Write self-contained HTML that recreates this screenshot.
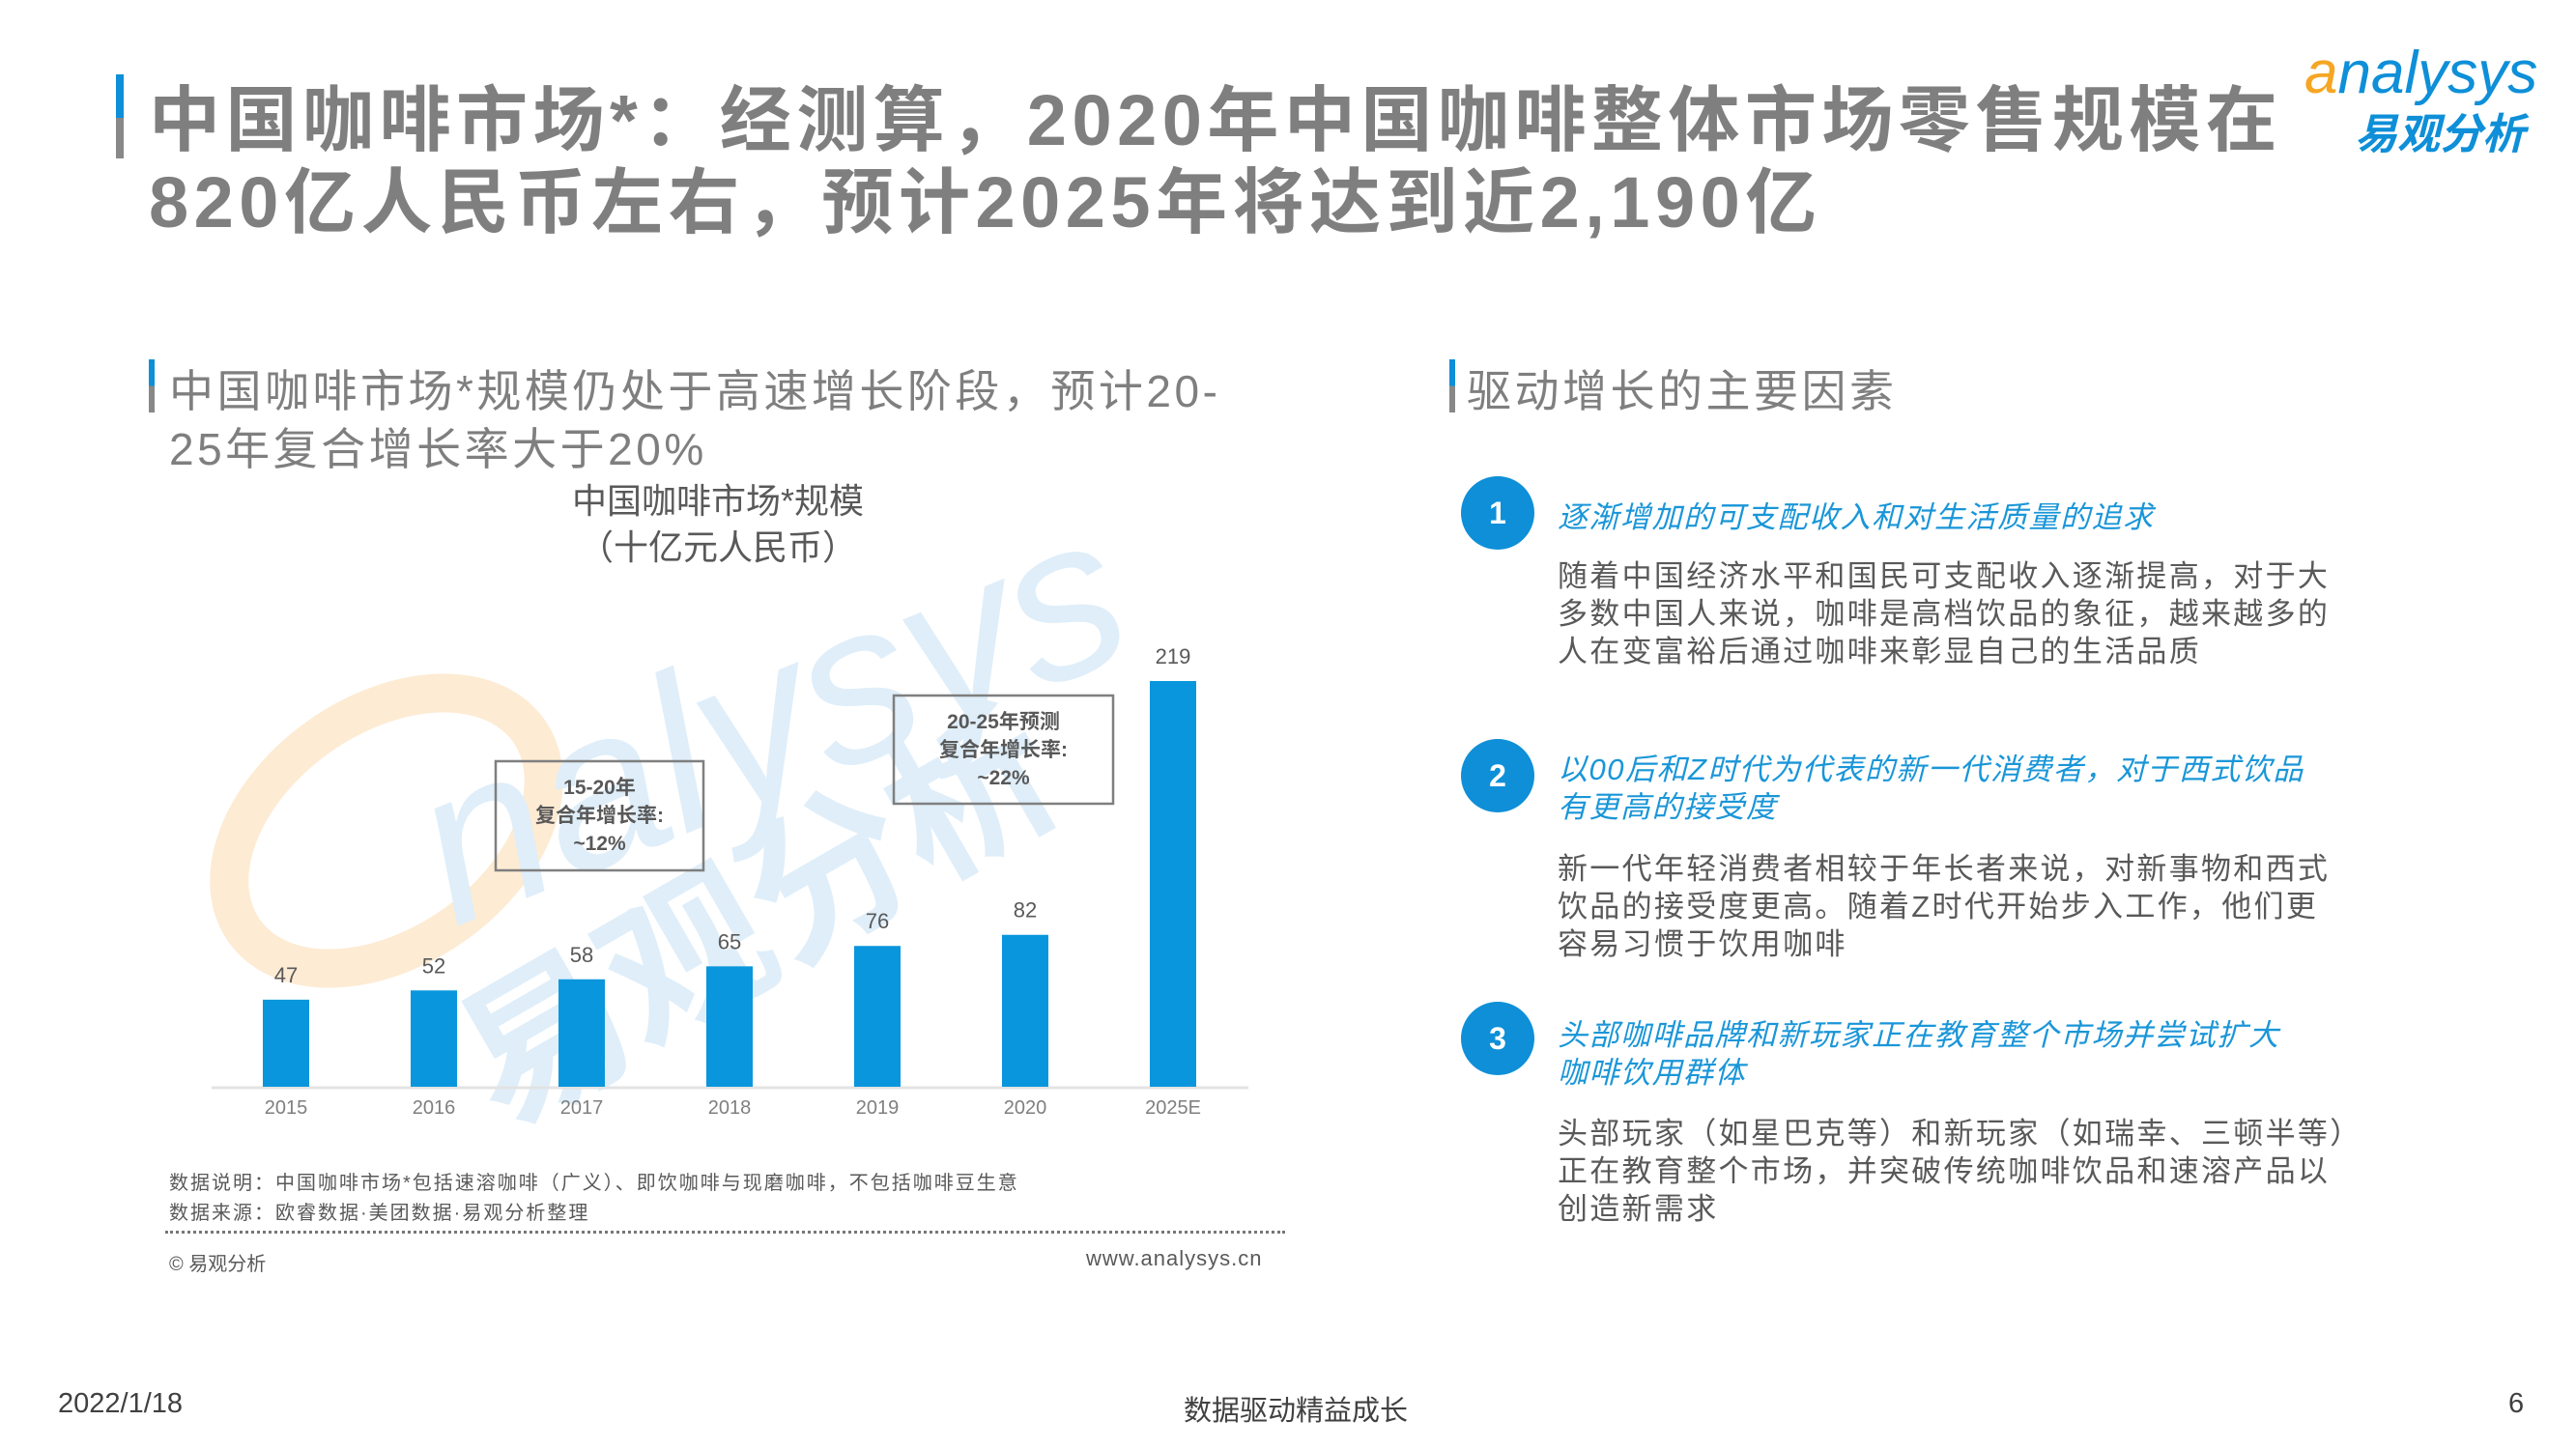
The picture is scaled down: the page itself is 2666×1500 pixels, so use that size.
<!DOCTYPE html>
<html><head><meta charset="utf-8">
<style>
body{margin:0;width:2666px;height:1500px;background:#fff;position:relative;overflow:hidden;font-family:"Liberation Sans","Noto Sans CJK SC",sans-serif;}
.abs{position:absolute;white-space:nowrap;}
.title{left:154px;font-size:74px;font-weight:bold;color:#7f7f7f;line-height:86px;letter-spacing:5.5px;}
.sub{font-size:46px;color:#7f7f7f;line-height:60px;letter-spacing:3.5px;}
.circ{position:absolute;width:76px;height:76px;border-radius:50%;background:#0e8fd8;color:#fff;font-size:32px;font-weight:bold;text-align:center;line-height:76px;}
.h{position:absolute;left:1612px;font-size:31px;font-style:italic;color:#1a96d8;line-height:39px;letter-spacing:1.5px;}
.b{position:absolute;left:1612px;font-size:31px;color:#595959;line-height:39px;letter-spacing:2.3px;}
</style></head><body>
<div class="abs" style="left:120px;top:77px;width:8px;height:45px;background:#0e8fd8"></div>
<div class="abs" style="left:120px;top:122px;width:8px;height:42px;background:#888"></div>
<div class="abs title" style="top:82px">中国咖啡市场*：经测算，2020年中国咖啡整体市场零售规模在</div>
<div class="abs title" style="top:167px">820亿人民币左右，预计2025年将达到近2,190亿</div>

<div class="abs" style="left:2385px;top:40px;">
 <div style="font-size:62px;font-style:italic;color:#0e8fd8;"><span style="color:#f5a623">a</span>nalysys</div>
 <div style="font-size:44px;font-weight:bold;font-style:italic;color:#0e8fd8;margin-left:52px;margin-top:-8px">易观分析</div>
</div>

<div class="abs" style="left:154px;top:372px;width:6px;height:55px;background:linear-gradient(#0e8fd8 50%,#888 50%)"></div>
<div class="abs sub" style="left:175px;top:375px">中国咖啡市场*规模仍处于高速增长阶段，预计20-<br>25年复合增长率大于20%</div>
<div class="abs" style="left:1500px;top:372px;width:6px;height:55px;background:linear-gradient(#0e8fd8 50%,#888 50%)"></div>
<div class="abs sub" style="left:1518px;top:375px">驱动增长的主要因素</div>

<div class="abs" style="left:743px;top:495px;transform:translateX(-50%);text-align:center;font-size:36px;color:#595959;line-height:48px">中国咖啡市场*规模<br>（十亿元人民币）</div>

<svg class="abs" style="left:0;top:0" width="1400" height="1300" id="chart">
 <g opacity="0.9">
  <ellipse cx="400" cy="860" rx="180" ry="120" transform="rotate(-35 400 860)" fill="none" stroke="#fde9cf" stroke-width="40"/>
  <text x="470" y="960" font-size="230" font-style="italic" fill="#dcedf9" transform="rotate(-22 470 960)" font-family="Liberation Sans">nalysys</text>
  <text x="520" y="1170" font-size="170" font-weight="bold" fill="#dcedf9" transform="rotate(-30 520 1170)" font-family="Noto Sans CJK SC">易观分析</text>
 </g>
</svg>

<div class="abs" style="left:175px;top:1208px;font-size:20px;color:#595959;letter-spacing:2px">数据说明：中国咖啡市场*包括速溶咖啡（广义）、即饮咖啡与现磨咖啡，不包括咖啡豆生意</div>
<div class="abs" style="left:175px;top:1239px;font-size:20px;color:#595959;letter-spacing:2px">数据来源：欧睿数据·美团数据·易观分析整理</div>
<div class="abs" style="left:171px;top:1274px;width:1159px;border-top:3px dotted #777"></div>
<div class="abs" style="left:175px;top:1292px;font-size:20px;color:#595959">© 易观分析</div>
<div class="abs" style="left:1124px;top:1290px;font-size:22px;color:#595959;letter-spacing:1px">www.analysys.cn</div>

<div class="circ" style="left:1512px;top:493px">1</div>
<div class="h" style="top:516px">逐渐增加的可支配收入和对生活质量的追求</div>
<div class="b" style="top:577px">随着中国经济水平和国民可支配收入逐渐提高，对于大<br>多数中国人来说，咖啡是高档饮品的象征，越来越多的<br>人在变富裕后通过咖啡来彰显自己的生活品质</div>
<div class="circ" style="left:1512px;top:765px">2</div>
<div class="h" style="top:777px">以00后和Z时代为代表的新一代消费者，对于西式饮品<br>有更高的接受度</div>
<div class="b" style="top:880px">新一代年轻消费者相较于年长者来说，对新事物和西式<br>饮品的接受度更高。随着Z时代开始步入工作，他们更<br>容易习惯于饮用咖啡</div>
<div class="circ" style="left:1512px;top:1037px">3</div>
<div class="h" style="top:1052px">头部咖啡品牌和新玩家正在教育整个市场并尝试扩大<br>咖啡饮用群体</div>
<div class="b" style="top:1154px">头部玩家（如星巴克等）和新玩家（如瑞幸、三顿半等）<br>正在教育整个市场，并突破传统咖啡饮品和速溶产品以<br>创造新需求</div>

<div class="abs" style="left:60px;top:1437px;font-size:29px;color:#404040">2022/1/18</div>
<div class="abs" style="left:1341px;top:1437px;transform:translateX(-50%);font-size:29px;color:#404040">数据驱动精益成长</div>
<div class="abs" style="left:2596px;top:1437px;font-size:29px;color:#404040">6</div>

<script>
const categories=["2015","2016","2017","2018","2019","2020","2025E"];
const values=[47,52,58,65,76,82,219];
const annotations=[["15-20年","复合年增长率:","~12%"],["20-25年预测","复合年增长率:","~22%"]];
const NS="http://www.w3.org/2000/svg";
const svg=document.getElementById('chart');
const baseY=1125, x0=296, step=153, scaleK=420/219, bw=48;
const xPos=i=>x0+i*step;
const yPos=v=>baseY-v*scaleK;
function mk(t,a){const e=document.createElementNS(NS,t);for(const k in a)e.setAttribute(k,a[k]);svg.appendChild(e);return e;}
const ax=mk('line',{x1:219,x2:1292,y1:baseY+1,y2:baseY+1,stroke:'#e3e3e3','stroke-width':3});


categories.forEach((c,i)=>{
 const r=mk('rect',{x:xPos(i)-bw/2,y:yPos(values[i]),width:bw,height:baseY-yPos(values[i]),fill:'#0996dd'});
 
 
 const v=mk('text',{x:xPos(i),y:yPos(values[i])-18,'text-anchor':'middle','font-size':22,fill:'#595959'});
 v.textContent=values[i];
 
 
 const t=mk('text',{x:xPos(i),y:baseY+28,'text-anchor':'middle','font-size':20,fill:'#7f7f7f'});
 t.textContent=c;
 
 
});
const boxes=[{x:513,y:788,w:215,h:113},{x:925,y:720,w:227,h:112}];
annotations.forEach((lines,j)=>{
 const b=boxes[j];
 const r=mk('rect',{x:b.x,y:b.y,width:b.w,height:b.h,fill:'none',stroke:'#7f7f7f','stroke-width':2.5});
 
 
 lines.forEach((l,k)=>{
  const t=mk('text',{x:b.x+b.w/2,y:b.y+34+k*29,'text-anchor':'middle','font-size':21,'font-weight':'bold',fill:'#595959'});
  t.textContent=l;
  
  
 });
});
</script>
</body></html>
